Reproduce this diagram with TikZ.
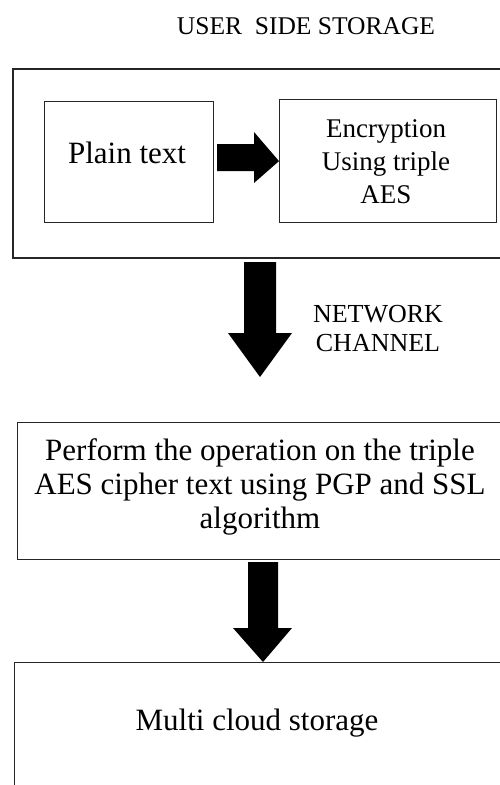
\documentclass[tikz,border=0pt]{standalone}
\usepackage{fontspec}
\setmainfont{Liberation Serif}
\begin{document}
\begin{tikzpicture}[x=1pt,y=-1pt,
  box/.style={draw=black!85,line width=1.2pt,fill=none,inner sep=0pt},
  blk/.style={fill=black},
  txt/.style={inner sep=0pt,align=center,text=black}]
\useasboundingbox (0,0) rectangle (500,785);
\clip (0,0) rectangle (500,785);
% boxes
\draw[box] (13,69) rectangle (520,258);
\node[box,minimum width=169pt,minimum height=121pt,anchor=north west] (plain) at (44,101) {};
\node[box,minimum width=217pt,minimum height=123pt,anchor=north west] (enc) at (279,99) {};
\node[box,minimum width=520pt,minimum height=137pt,anchor=north west] (op) at (17,422) {};
\node[box,minimum width=520pt,minimum height=150pt,anchor=north west] (cloud) at (14,662) {};
% texts
\node[txt,anchor=base,font=\fontsize{25.5}{29}\selectfont] (title) at (306,34) {USER\ \ SIDE STORAGE};
\node[txt,anchor=base,font=\fontsize{31}{34}\selectfont] (ptext) at (127,163) {Plain text};
\node[txt,font=\fontsize{27}{33}\selectfont] (etext) at (386,162) {Encryption\\Using triple\\AES};
\node[txt,font=\fontsize{26}{29}\selectfont] (net) at (378,329) {NETWORK\\CHANNEL};
\node[txt,font=\fontsize{31}{34}\selectfont] (optext) at (260,487) {Perform the operation on the triple\\AES cipher text using PGP and SSL\\algorithm};
\node[txt,anchor=base,font=\fontsize{31}{34}\selectfont] (ctext) at (257,730) {Multi cloud storage};
% block arrows
\fill[blk] (217,144) -- (254,144) -- (254,132) -- (enc.west) -- (254,183) -- (254,171) -- (217,171) -- cycle;
\fill[blk] (244,262) -- (276,262) -- (276,333) -- (292,333) -- (260,377) -- (228,333) -- (244,333) -- cycle;
\fill[blk] (248,562) -- (278,562) -- (278,628) -- (292,628) -- (263,662) -- (233,628) -- (248,628) -- cycle;
\end{tikzpicture}
\end{document}
